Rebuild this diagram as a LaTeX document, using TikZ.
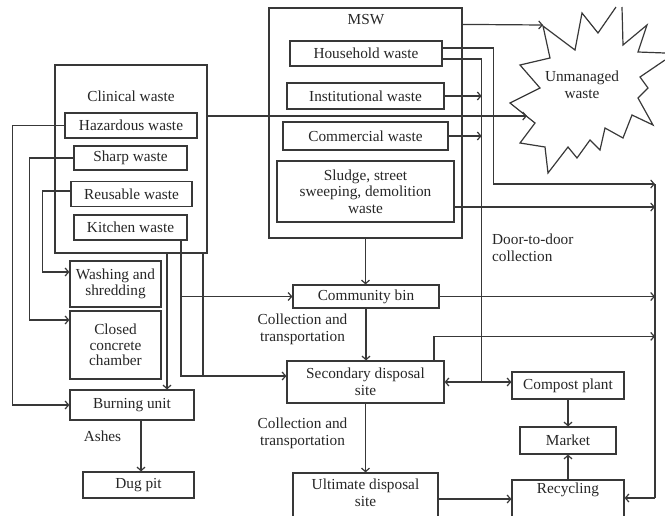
\documentclass[tikz,border=0pt]{standalone}
\usepackage{fontspec}
\setmainfont{Liberation Serif}
\usetikzlibrary{arrows.meta}
\definecolor{ink}{HTML}{262626}
\definecolor{wire}{HTML}{383838}
\tikzset{
  box/.style={draw=wire, line width=1.2pt, rectangle, inner sep=0pt, align=center,
    text=ink, font=\fontsize{15.3}{16.5}\selectfont},
  lbl/.style={inner sep=0pt, align=center, text=ink, font=\fontsize{15.3}{16.5}\selectfont},
  wireline/.style={draw=wire, line width=1.2pt},
  arr/.style={wireline, -{Straight Barb[length=3.5pt,width=8pt]}}
}
\begin{document}
\begin{tikzpicture}[x=1pt,y=-1pt]
\useasboundingbox (0,0) rectangle (665,515);
\clip (0,0) rectangle (665,515);

% ---------- clinical waste group ----------
\node[box, minimum width=152, minimum height=188] (clin) at (131,159) {};
\node[lbl] (clinlbl) at (131,96) {Clinical waste};
\node[box, minimum width=132, minimum height=25] (haz) at (131,125.5) {Hazardous waste};
\node[box, minimum width=113, minimum height=24] (sharp) at (130.5,158) {Sharp waste};
\node[box, minimum width=121, minimum height=25] (reus) at (131.5,194) {Reusable waste};
\node[box, minimum width=113, minimum height=25] (kitch) at (130.5,227.5) {Kitchen waste};

\node[box, minimum width=91, minimum height=46] (wash) at (115.5,284) {Washing and\\shredding};
\node[box, minimum width=91, minimum height=68, font=\fontsize{15.3}{15.5}\selectfont] (closed) at (115.5,345) {Closed\\concrete\\chamber};
\node[box, minimum width=124, minimum height=30] (burn) at (132,405) {Burning unit};
\node[box, minimum width=111, minimum height=26] (dug) at (138.5,485) {Dug pit};
\node[lbl] (ashes) at (102.5,436) {Ashes};

% ---------- MSW group ----------
\node[box, minimum width=193, minimum height=230] (msw) at (365.5,123) {};
\node[lbl] (mswlbl) at (366,20) {MSW};
\node[box, minimum width=152, minimum height=25] (house) at (366,53.5) {Household waste};
\node[box, minimum width=157, minimum height=26] (inst) at (365.5,96) {Institutional waste};
\node[box, minimum width=165, minimum height=28] (comm) at (365.5,136) {Commercial waste};
\node[box, minimum width=177, minimum height=61] (sludge) at (365.5,191.5) {Sludge, street\\sweeping, demolition\\waste};

% ---------- disposal chain ----------
\node[box, minimum width=146, minimum height=23] (cbin) at (366,296.5) {Community bin};
\node[box, minimum width=157, minimum height=42] (sec) at (365.5,382) {Secondary disposal\\site};
\node[box, minimum width=145, minimum height=52] (ult) at (365.5,499) {};
\node[lbl] (ulttxt) at (365.5,493) {Ultimate disposal\\site};
\node[lbl] (coll1) at (302.5,329.5) {Collection and\\transportation};
\node[lbl] (coll2) at (302.5,433.5) {Collection and\\transportation};
\node[lbl, align=left, anchor=west] (door) at (492,248) {Door-to-door\\collection};

% ---------- recovery ----------
\node[box, minimum width=112, minimum height=27] (compost) at (568,385.5) {Compost plant};
\node[box, minimum width=96, minimum height=27] (market) at (568,440.5) {Market};
\node[box, minimum width=112, minimum height=45] (recyc) at (568,502.5) {};
\node[lbl] (recyctxt) at (568,490) {Recycling};

% ---------- unmanaged waste burst ----------
\draw[wireline, line join=miter] (622,7) -- (623,45) -- (647,25) -- (638,52) -- (665,53);
\draw[wireline, line join=miter] (665,60) -- (640,77) -- (648,88) -- (638,98) -- (653,125)
  -- (632,115) -- (623,138) -- (605,128) -- (600,150) -- (590,140) -- (577,158)
  -- (568,147) -- (548,173) -- (545,147) -- (520,143) -- (535,123) -- (510,103)
  -- (540,88) -- (520,65) -- (550,58) -- (543,26) -- (575,50) -- (582,13)
  -- (598,33) -- (616,7);
\node[lbl] (unm) at (582,85) {Unmanaged\\waste};
\coordinate (bNW) at (543,25);
\coordinate (bW) at (527,116);

% ---------- clinical connectors ----------
\draw[arr] (haz.west) -- ++(-52,0) |- (burn.west);
\draw[arr] (sharp.west) -- ++(-44,0) |- ([yshift=25pt]closed.west);
\draw[arr] ([yshift=3pt]reus.west) -- ++(-28,0) |- ([yshift=12pt]wash.west);
\coordinate (c1) at ([xshift=36pt]clin.south);
\draw[arr] (c1) -- (c1 |- burn.north);
\coordinate (s1) at ([yshift=6pt]sec.west);
\coordinate (k1) at ([xshift=50.5pt]kitch.south);
\draw[arr] (k1) |- (s1);
\draw[arr] (k1 |- cbin.west) -- (cbin.west);
\coordinate (c2) at ([xshift=72pt]clin.south);
\draw[wireline] (c2) -- (c2 |- s1);
\coordinate (b1) at ([xshift=9pt]burn.south);
\draw[arr] (b1) -- (b1 |- dug.north);
\draw[arr] ([yshift=43pt]clin.east) -- (bW);

% ---------- MSW connectors ----------
\coordinate (rt) at (655,184);
\coordinate (rb) at (655,498);
\draw[arr] ([yshift=-17pt]msw.north east) -- (bNW);
\draw[arr] ([yshift=5.5pt]house.east) -- ++(51,0) |- (rt);
\draw[wireline] ([yshift=-5.5pt]house.east) -- ++(39,0) coordinate (d1) -- (d1 |- sec.east) coordinate (d2);
\draw[arr] (d2) -- (sec.east);
\draw[arr] (d2) -- (d2 -| compost.west);
\draw[arr] (inst.east) -- (inst.east -| d1);
\draw[arr] (comm.east) -- (comm.east -| d1);
\coordinate (s2) at ([yshift=-15.5pt]sludge.east);
\draw[arr] (s2) -- (s2 -| rt);

% ---------- disposal connectors ----------
\draw[arr] (msw.south) -- (msw.south |- cbin.north);
\draw[arr] (cbin.south) -- (cbin.south |- sec.north);
\draw[arr] (sec.south) -- (sec.south |- ult.north);
\draw[arr] (cbin.east) -- (cbin.east -| rt);
\coordinate (s3) at ([xshift=68.5pt]sec.north);
\coordinate (s4) at ([yshift=24pt]s3);
\draw[arr] (s3) -- (s4) -- (s4 -| rt);
\draw[wireline] (rt) -- (rb);
\draw[arr] (rb) -- (rb -| recyc.east);
\draw[arr] (ult.east) -- (ult.east -| recyc.west);
\draw[arr] (compost.south) -- (market.north);
\draw[arr] (recyc.north) -- (market.south);
\end{tikzpicture}
\end{document}
